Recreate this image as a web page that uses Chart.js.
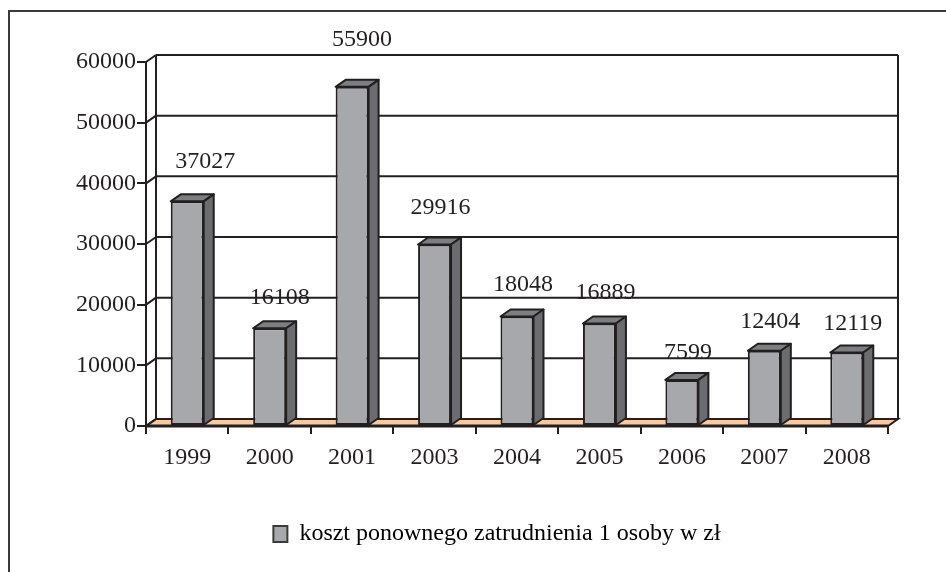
<!DOCTYPE html>
<html lang="pl">
<head>
    <meta charset="UTF-8">
    <title>Koszt ponownego zatrudnienia</title>
    <style>
        body {
            margin: 0;
            padding: 0;
            background: #ffffff;
        }

        .container {
            position: relative;
            width: 946px;
            height: 572px;
        }
    </style>
</head>
<body>
    <div class="container">
        <canvas id="barChart" width="946" height="572"></canvas>
    </div>

    <script src="https://cdn.jsdelivr.net/npm/chart.js"></script>
    <script>
        const years = ['1999', '2000', '2001', '2003', '2004', '2005', '2006', '2007', '2008'];
        const costs = [37027, 16108, 55900, 29916, 18048, 16889, 7599, 12404, 12119];
        const yTicks = [0, 10000, 20000, 30000, 40000, 50000, 60000];
        const seriesLabel = 'koszt ponownego zatrudnienia 1 osoby w zł';

        const ink = '#231f20';
        const depthX = 10, depthY = -7;

        Chart.defaults.font.family = "'Liberation Serif', 'Times New Roman', serif";
        Chart.defaults.font.size = 24;
        Chart.defaults.color = ink;

        function line(ctx, x1, y1, x2, y2) {
            ctx.beginPath();
            ctx.moveTo(x1, y1);
            ctx.lineTo(x2, y2);
            ctx.stroke();
        }

        function poly(ctx, pts, fill) {
            ctx.beginPath();
            ctx.moveTo(pts[0][0], pts[0][1]);
            for (let i = 1; i < pts.length; i++) ctx.lineTo(pts[i][0], pts[i][1]);
            ctx.closePath();
            ctx.fillStyle = fill;
            ctx.fill();
            ctx.stroke();
        }

        // walls, floor and gridlines of the excel-like 3d box
        const box3d = {
            id: 'box3d',
            afterLayout(chart) {
                // the original legend sits right of centre
                chart.legend.left += 53;
                chart.legend.right += 53;
            },
            beforeDraw(chart) {
                const ctx = chart.ctx;
                ctx.save();
                ctx.strokeStyle = '#3a3a3a';
                ctx.lineWidth = 2;
                line(ctx, 9, 11, 9, 572);
                line(ctx, 8, 11, 946, 11);
                ctx.restore();
            },
            beforeDatasetsDraw(chart) {
                const ctx = chart.ctx;
                const y = chart.scales.y;
                const a = chart.chartArea;
                const base = y.getPixelForValue(0);
                ctx.save();
                ctx.strokeStyle = ink;
                ctx.lineWidth = 2;

                poly(ctx, [[a.left, base], [a.right, base], [a.right + depthX, base + depthY], [a.left + depthX, base + depthY]], '#fbc99c');

                yTicks.forEach(v => {
                    const py = y.getPixelForValue(v);
                    line(ctx, a.left + depthX, py + depthY, a.right + depthX, py + depthY);
                    line(ctx, a.left, py, a.left + depthX, py + depthY);
                });
                const top = y.getPixelForValue(yTicks[yTicks.length - 1]);
                line(ctx, a.left + depthX, top + depthY, a.left + depthX, base + depthY);
                line(ctx, a.right + depthX, top + depthY, a.right + depthX, base + depthY);
                line(ctx, a.left, top, a.left, base);
                ctx.lineWidth = 3;
                line(ctx, a.left, base, a.right, base);
                ctx.restore();
            },
            afterDatasetsDraw(chart) {
                const ctx = chart.ctx;
                const y = chart.scales.y;
                const meta = chart.getDatasetMeta(0);
                ctx.save();
                ctx.strokeStyle = ink;
                ctx.lineWidth = 2;
                ctx.lineJoin = 'round';
                meta.data.forEach(bar => {
                    const p = bar.getProps(['x', 'y', 'base', 'width'], true);
                    const x0 = p.x - p.width / 2, x1 = p.x + p.width / 2;
                    poly(ctx, [[x0, p.y], [x0 + depthX, p.y + depthY], [x1 + depthX, p.y + depthY], [x1, p.y]], '#7d7e81');
                    poly(ctx, [[x1, p.y], [x1 + depthX, p.y + depthY], [x1 + depthX, p.base + depthY], [x1, p.base]], '#6b6c6f');
                });

                // excel lifts the 3d labels a bit more on taller bars
                ctx.fillStyle = ink;
                ctx.font = "24px 'Liberation Serif', 'Times New Roman', serif";
                ctx.textAlign = 'center';
                ctx.textBaseline = 'middle';
                meta.data.forEach((bar, i) => {
                    const ly = y.getPixelForValue(costs[i] * 1.068) - 24;
                    const shift = i === 0 ? 18 : (i < 3 ? 10 : 6);
                    ctx.fillText(String(costs[i]), bar.x + shift, ly);
                });
                ctx.restore();
            }
        };

        new Chart(document.getElementById('barChart'), {
            type: 'bar',
            data: {
                labels: years,
                datasets: [{
                    label: seriesLabel,
                    data: costs,
                    backgroundColor: '#a7a8ab',
                    borderColor: ink,
                    borderWidth: 2,
                    borderSkipped: false,
                    barPercentage: 0.4,
                    categoryPercentage: 1
                }]
            },
            options: {
                responsive: false,
                animation: false,
                layout: { padding: { top: 62, right: 58, bottom: 16, left: 0 } },
                plugins: {
                    tooltip: { enabled: false },
                    legend: {
                        position: 'bottom',
                        labels: {
                            boxWidth: 14,
                            boxHeight: 16,
                            padding: 10,
                            color: ink,
                            font: { size: 24 },
                            generateLabels() {
                                return [{
                                    text: seriesLabel,
                                    fillStyle: '#a7a8ab',
                                    strokeStyle: '#3a3a3a',
                                    lineWidth: 2,
                                    datasetIndex: 0
                                }];
                            }
                        }
                    }
                },
                scales: {
                    x: {
                        offset: true,
                        grid: { display: true, offset: true, drawOnChartArea: false, tickLength: 8, color: ink, lineWidth: 2 },
                        border: { display: true, color: ink, width: 2 },
                        ticks: { padding: 9, color: ink },
                        afterFit(scale) { scale.height = 86; }
                    },
                    y: {
                        min: 0,
                        max: 60000,
                        afterBuildTicks(scale) { scale.ticks = yTicks.map(v => ({ value: v })); },
                        grid: { drawOnChartArea: false, tickLength: 9, color: ink, lineWidth: 2 },
                        border: { display: true, color: ink, width: 2 },
                        ticks: { padding: 1, color: ink, callback: v => String(v) },
                        afterFit(scale) { scale.width = 146; }
                    }
                }
            },
            plugins: [box3d]
        });
    </script>
</body>
</html>
